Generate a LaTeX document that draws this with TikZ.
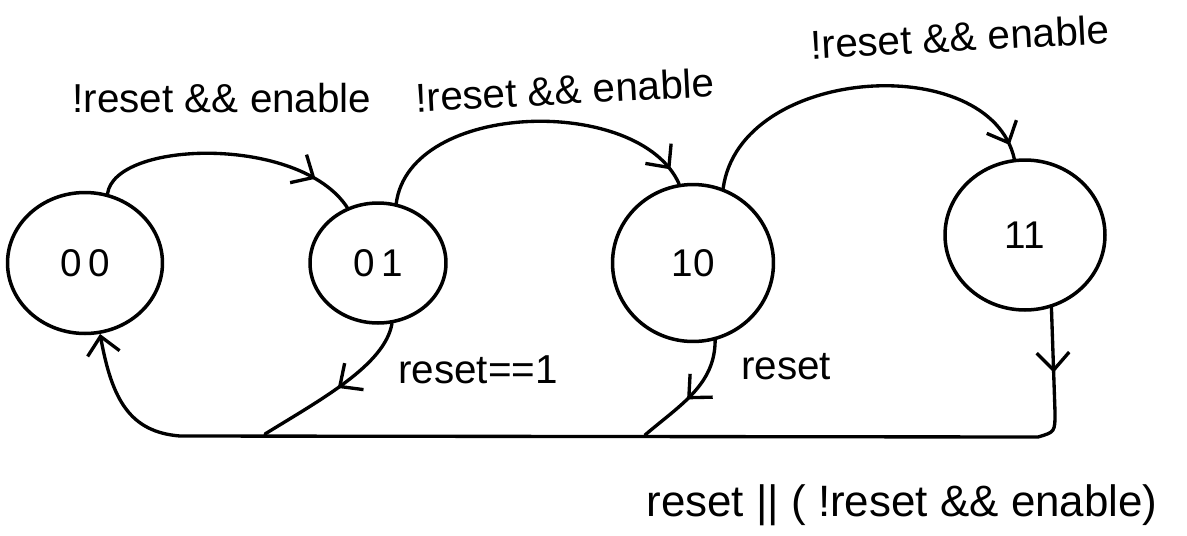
\documentclass[tikz,border=0pt]{standalone}
\usepackage{fontspec}
\setmainfont{Liberation Sans}
\usetikzlibrary{shapes.geometric,arrows.meta,decorations.markings}

\begin{document}
\begin{tikzpicture}[x=0.02cm, y=-0.02cm,
  line cap=round, line join=round,
  state/.style={ellipse, draw, line width=2pt, inner sep=0pt,
    font=\fontsize{22}{26}\selectfont},
  wire/.style={line width=1.9pt},
  tip/.style={-{Straight Barb[length=3.5mm,width=6.5mm]}},
  arrowat/.style={postaction={decorate},
    decoration={markings,
      mark=at position #1 with {\arrow{Straight Barb[length=3.5mm,width=6.5mm]}}}},
  lbl/.style={inner sep=0pt, font=\fontsize{23}{27}\selectfont}]

\useasboundingbox (0,0) rectangle (1187,535);

% states
\node[state, minimum width=3.1cm,  minimum height=2.82cm] (n00) at (85,263)   {0\,0};
\node[state, minimum width=2.72cm, minimum height=2.4cm]  (n01) at (378,263)  {0\,1};
\node[state, minimum width=3.22cm, minimum height=3.14cm] (n10) at (693,263)  {10};
\node[state, minimum width=3.2cm,  minimum height=3.0cm]  (n11) at (1025,235) {11};

% forward transitions over the top
\draw[wire, arrowat=0.84] (n00.72)  .. controls (115,140) and (300,135) .. (n01.119);
\draw[wire, arrowat=0.95] (n01.73)  .. controls (410,100) and (640,95)  .. (n10.100);
\draw[wire, arrowat=0.96] (n10.68)  .. controls (740,65)  and (990,50)  .. (n11.98);

% return path along the bottom
\coordinate (b1) at (265,434);
\coordinate (b2) at (645,435);
\coordinate (c1) at (1055,412);
\coordinate (c2) at (1038,437);
\coordinate (c3) at (180,436);

\draw[wire, arrowat=0.5]  (n01.-77) .. controls (385,365) and (320,400) .. (b1);
\draw[wire, arrowat=0.55] (n10.-74) .. controls (715,385) and (680,405) .. (b2);
\draw[wire, tip, arrowat=1.3cm] (n11.-70) -- (c1) .. controls (1055,432) .. (c2)
  -- (c3) .. controls (130,432) and (112,400) .. (n00.-78);

% transition conditions
\node[lbl] (t1) at (222,98)  {!reset \&\& enable};
\node[lbl, rotate=3] (t2) at (565,90)  {!reset \&\& enable};
\node[lbl, rotate=3] (t3) at (960,37)  {!reset \&\& enable};
\node[lbl] (t4) at (478,370) {reset==1};
\node[lbl] (t5) at (786,367) {reset};
\node[lbl, font=\fontsize{25}{29}\selectfont] (t6) at (902,505) {reset || ( !reset \&\& enable)};

\end{tikzpicture}
\end{document}
